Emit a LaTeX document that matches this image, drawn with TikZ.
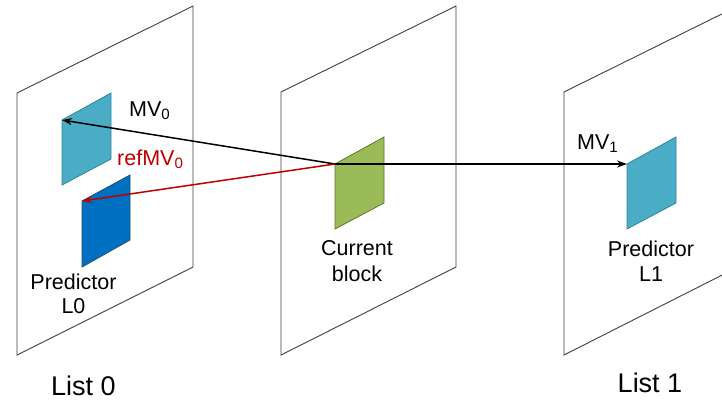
\documentclass[tikz,border=0pt]{standalone}
\usepackage{fontspec}
\setmainfont{Liberation Sans}
\usetikzlibrary{arrows.meta}
\definecolor{cyanblk}{HTML}{4BACC6}
\definecolor{cyanedge}{HTML}{31859C}
\definecolor{blueblk}{HTML}{0070C0}
\definecolor{blueedge}{HTML}{1F4E79}
\definecolor{greenblk}{HTML}{9BBB59}
\definecolor{greenedge}{HTML}{5E7530}
\definecolor{planeedge}{HTML}{404040}
\definecolor{mvred}{HTML}{C00000}
\tikzset{
  plane/.style={draw=planeedge, line width=0.9pt, fill=white},
  blk/.style={line width=0.8pt},
  mv/.style={line width=1.5pt, -{Stealth[length=10pt,width=7pt]}},
  lbl/.style={inner sep=0pt, anchor=base, font=\fontsize{21.5}{25}\selectfont},
  lbll/.style={inner sep=0pt, anchor=base west, font=\fontsize{21.5}{25}\selectfont},
  listlbl/.style={inner sep=0pt, anchor=base, font=\fontsize{27}{30}\selectfont}
}
\begin{document}
\begin{tikzpicture}[x=1pt,y=-1pt]
\useasboundingbox (0,0) rectangle (722,400);
\clip (0,0) rectangle (722,400);
\fill[white] (0,0) rectangle (722,400);
% planes
\draw[plane] (17,93) -- (193,6) -- (193,267) -- (17,355) -- cycle;
\draw[plane] (281,92) -- (456,6) -- (456,267) -- (281,355) -- cycle;
\draw[plane] (564,92) -- (740,5) -- (740,266) -- (564,355) -- cycle;
% blocks
\coordinate (p0) at (62,120);
\coordinate (r0) at (82,201);
\coordinate (cb) at (335,164);
\coordinate (p1) at (627,164);
\draw[blk, draw=cyanedge, fill=cyanblk] (p0) -- (111,93) -- (111,159) -- (62,185) -- cycle;
\draw[blk, draw=blueedge, fill=blueblk] (r0) -- (130,175) -- (130,240) -- (82,267) -- cycle;
\draw[blk, draw=greenedge, fill=greenblk] (cb) -- (384,137) -- (384,203) -- (335,229) -- cycle;
\draw[blk, draw=cyanedge, fill=cyanblk] (p1) -- (676,137) -- (676,203) -- (627,229) -- cycle;
% motion vectors
\draw[mv, black] (cb) -- (p0);
\draw[mv, mvred] (cb) -- (r0);
\draw[mv, black] (cb) -- (p1);
% labels
\node[lbll] (mv0) at (129,116) {MV\textsubscript{0}};
\node[lbll, text=mvred] (refmv0) at (117,165) {refMV\textsubscript{0}};
\node[lbll] (mv1) at (577,149) {MV\textsubscript{1}};
\node[lbl] (pl0a) at (73.5,289) {Predictor};
\node[lbl] (pl0b) at (73.5,313) {L0};
\node[lbl] (cba) at (357,255) {Current};
\node[lbl] (cbb) at (357,281) {block};
\node[lbl] (pl1a) at (651,256) {Predictor};
\node[lbl] (pl1b) at (651,281) {L1};
\node[listlbl] (list0) at (83.5,395) {List 0};
\node[listlbl] (list1) at (650,392) {List 1};
\end{tikzpicture}
\end{document}
